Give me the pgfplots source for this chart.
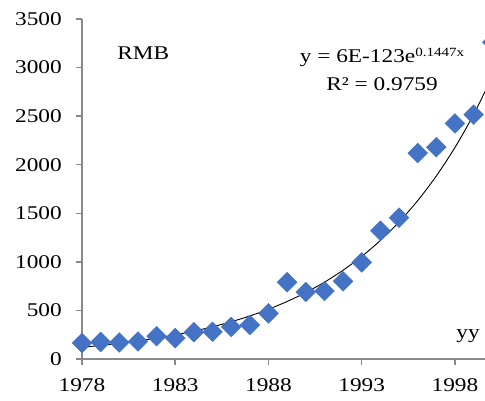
\documentclass[border=0pt]{standalone}
\usepackage{fontspec}
\setmainfont{Liberation Serif}[FakeStretch=1.2]
\usepackage{pgfplots}
\pgfplotsset{compat=1.18}
\definecolor{pt}{HTML}{4472C4}
\definecolor{ax}{HTML}{898989}
\newcommand{\lbl}{\fontsize{19.5}{22}\selectfont}
\begin{document}
\begin{tikzpicture}
\useasboundingbox (-82bp,-42bp) rectangle (403bp,359bp);
\begin{axis}[
 at={(0,0)}, anchor=south west,
 scale only axis, width=419.6bp, height=340bp,
 xmin=1978, xmax=2000.5, ymin=0, ymax=3500,
 axis lines=left, axis line style={ax, line width=1.5bp, -},
 xtick={1978,1983,...,1998}, ytick={0,500,...,3500},
 tick style={ax, line width=1.5bp},
 tick align=outside, major tick length=6bp,
 ticklabel style={font=\lbl, inner sep=0pt},
 xticklabel style={anchor=north, yshift=-13bp},
 yticklabel style={anchor=east, xshift=-14bp},
 /pgf/number format/assume math mode=true,
 /pgf/number format/1000 sep={},
]
\addplot[only marks, mark=square*, mark size=7bp, mark options={rotate=45, fill=pt, draw=pt}] coordinates {
(1978,165) (1979,175) (1980,170) (1981,180) (1982,235) (1983,215)
(1984,275) (1985,280) (1986,330) (1987,350) (1988,470) (1989,790)
(1990,690) (1991,700) (1992,800) (1993,995) (1994,1320) (1995,1455)
(1996,2120) (1997,2180) (1998,2425) (1999,2515) (2000,3260)
};
\addplot[black, line width=0.9bp, smooth, no marks] coordinates {
(1978,120.5) (1979,139.3) (1980,160.9) (1981,186.0) (1982,215.0) (1983,248.4)
(1984,287.1) (1985,331.8) (1986,383.5) (1987,443.2) (1988,512.2) (1989,592.0)
(1990,684.2) (1991,790.7) (1992,913.8) (1993,1056.1) (1994,1220.6) (1995,1410.6)
(1996,1630.2) (1997,1884.1) (1998,2177.5) (1999,2516.5) (2000,2908.4)
};
\node[anchor=base west, font=\lbl, inner sep=0pt] at (axis cs:1979.88,3079) {RMB};
\node[anchor=base, font=\lbl, inner sep=0pt] at (axis cs:1994.09,3048) {y = 6E-123e\raisebox{6.5bp}{\fontsize{12.6}{13}\selectfont 0.1447x}};
\node[anchor=base, font=\lbl, inner sep=0pt] at (axis cs:1994.09,2760) {R² = 0.9759};
\node[anchor=base east, font=\lbl, inner sep=0pt] at (axis cs:1999.34,206) {yy};
\end{axis}
\end{tikzpicture}
\end{document}
